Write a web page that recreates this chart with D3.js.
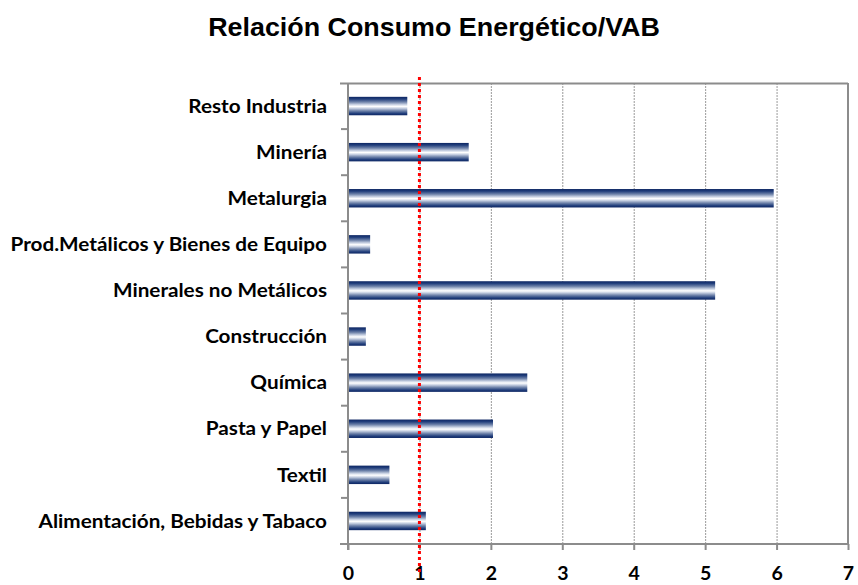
<!DOCTYPE html>
<html>
<head>
<meta charset="utf-8">
<script src="https://cdn.jsdelivr.net/npm/d3@7"></script>
<style>
  html, body { margin: 0; padding: 0; background: #fff; }
  svg { display: block; }
</style>
</head>
<body>
<svg id="chart" width="858" height="585"></svg>
<script>
// Energy consumption / gross value added ratio by industrial sector
const categories = [
  "Resto Industria",
  "Minería",
  "Metalurgia",
  "Prod.Metálicos y Bienes de Equipo",
  "Minerales no Metálicos",
  "Construcción",
  "Química",
  "Pasta y Papel",
  "Textil",
  "Alimentación, Bebidas y Tabaco"
];
const ratios = [0.83, 1.69, 5.96, 0.31, 5.14, 0.25, 2.51, 2.03, 0.58, 1.09];
const xTicks = [0, 1, 2, 3, 4, 5, 6, 7];
const referenceValue = 1;
const title = "Relación Consumo Energético/VAB";

const svg = d3.select("#chart");
const margin = { left: 348, right: 10, top: 83, bottom: 41 };
const W = 858, H = 585;

const x = d3.scaleLinear().domain([0, 7]).range([margin.left, W - margin.right]);
const y = d3.scaleBand().domain(categories).range([margin.top, H - margin.bottom]).paddingInner(0.6).paddingOuter(0.3);
const yBand = d3.scaleBand().domain(categories).range([margin.top, H - margin.bottom]);

const axisColor = "#8c8c8c";

// Cylinder-like shading for the bars
const defs = svg.append("defs");
const grad = defs.append("linearGradient").attr("id", "barGrad")
  .attr("x1", 0).attr("y1", 0).attr("x2", 0).attr("y2", 1);
[
  [0, "#0c2562"], [0.12, "#223f7c"], [0.28, "#6f83aa"], [0.42, "#c9d2e3"],
  [0.52, "#ffffff"], [0.62, "#c9d2e3"], [0.76, "#6f83aa"], [0.9, "#223f7c"], [1, "#0c2562"]
].forEach(([o, c]) => grad.append("stop").attr("offset", o).attr("stop-color", c));

// Title
const titleText = svg.append("text")
  .attr("text-anchor", "middle")
  .attr("font-family", "'Liberation Sans', Arial, sans-serif")
  .attr("font-weight", "bold")
  .attr("font-size", 25)
  .attr("fill", "#000")
  .text(title);
const titleW = titleText.node().getComputedTextLength();
titleText.attr("transform", `translate(434,36) scale(${452 / titleW},1)`);

// Vertical gridlines
svg.append("g").selectAll("line")
  .data(xTicks.filter(d => d > 0 && d < 7))
  .join("line")
  .attr("x1", d => x(d) + 0.5).attr("x2", d => x(d) + 0.5)
  .attr("y1", margin.top).attr("y2", H - margin.bottom)
  .attr("stroke", "#9a9a9a").attr("stroke-width", 1)
  .attr("stroke-dasharray", "2,1");

// Plot frame: top and right edges
svg.append("line")
  .attr("x1", x(0) - 8).attr("x2", x(7))
  .attr("y1", margin.top + 0.5).attr("y2", margin.top + 0.5)
  .attr("stroke", axisColor).attr("stroke-width", 2);
svg.append("line")
  .attr("x1", x(7)).attr("x2", x(7))
  .attr("y1", margin.top).attr("y2", H - margin.bottom)
  .attr("stroke", axisColor).attr("stroke-width", 2);

// Bars
svg.append("g").selectAll("rect")
  .data(categories.map((c, i) => ({ c, v: ratios[i] })))
  .join("rect")
  .attr("x", x(0))
  .attr("y", d => y(d.c))
  .attr("width", d => x(d.v) - x(0))
  .attr("height", y.bandwidth())
  .attr("fill", "url(#barGrad)");

// Bottom axis
const xAxis = d3.axisBottom(x).tickValues(xTicks).tickFormat(d3.format("d"))
  .tickSize(6).tickSizeOuter(0).tickPadding(16);
const gx = svg.append("g").attr("transform", `translate(0,${H - margin.bottom})`).call(xAxis);
gx.select(".domain").attr("stroke", axisColor).attr("stroke-width", 2)
  .attr("d", `M${x(0) - 8},0H${x(7)}`);
gx.selectAll(".tick line").attr("stroke", axisColor).attr("stroke-width", 2);
gx.selectAll(".tick text")
  .attr("font-family", "Lato, 'Open Sans', sans-serif")
  .attr("font-weight", "bold")
  .attr("font-size", 19.5)
  .attr("fill", "#000")
  .attr("y", 36)
  .attr("dy", 0);

// Left axis with ticks at category boundaries
const gy = svg.append("g").attr("transform", `translate(${x(0)},0)`);
gy.append("line")
  .attr("x1", 0).attr("x2", 0)
  .attr("y1", margin.top).attr("y2", H - margin.bottom + 6)
  .attr("stroke", axisColor).attr("stroke-width", 2);
gy.selectAll("line.tk")
  .data(categories.slice(1))
  .join("line").attr("class", "tk")
  .attr("x1", -7).attr("x2", 0)
  .attr("y1", d => yBand(d)).attr("y2", d => yBand(d))
  .attr("stroke", axisColor).attr("stroke-width", 2);
gy.selectAll("text")
  .data(categories)
  .join("text")
  .attr("transform", d => `translate(-21,${yBand(d) + yBand.bandwidth() / 2}) scale(1.12,1)`)
  .attr("dy", "0.36em")
  .attr("text-anchor", "end")
  .attr("font-family", "Lato, 'Open Sans', sans-serif")
  .attr("font-weight", "bold")
  .attr("font-size", 18.5)
  .attr("fill", "#000")
  .text(d => d);

// Reference line at ratio = 1
svg.append("line")
  .attr("x1", x(referenceValue)).attr("x2", x(referenceValue))
  .attr("y1", margin.top - 6).attr("y2", H - 10)
  .attr("stroke", "#ff0000").attr("stroke-width", 3)
  .attr("stroke-dasharray", "3,3");
</script>
</body>
</html>
